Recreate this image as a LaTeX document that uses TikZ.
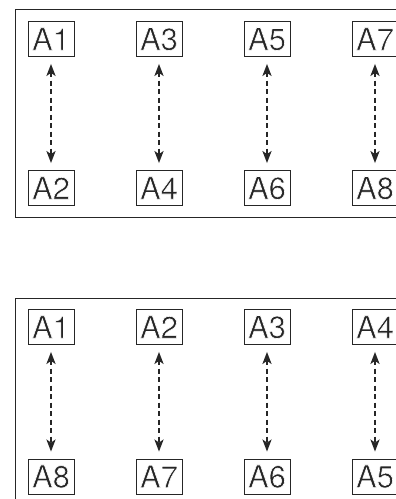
\documentclass[tikz,border=0pt]{standalone}
\usepackage{fontspec}
\setmainfont{TeX Gyre Heros}
\usetikzlibrary{arrows.meta}
\definecolor{ink}{HTML}{262626}
\newcommand\thintext[1]{\special{pdf:literal 2 Tr 0.6 w 1 1 1 RG}#1\special{pdf:literal 0 Tr}}
\tikzset{
  lbl/.style={draw=ink, line width=0.8pt, minimum width=46pt, minimum height=35pt, inner sep=0pt,
    text=ink, font=\fontsize{31}{30}\selectfont},
  link/.style={draw=ink, line width=2.7pt, dash pattern=on 5pt off 3.5pt,
    {Stealth[length=12pt,width=9pt,inset=3pt]}-{Stealth[length=12pt,width=9pt,inset=3pt]},
    shorten <=7pt, shorten >=7pt},
  frame/.style={draw=ink, line width=0.9pt}
}
\begin{document}
\begin{tikzpicture}[x=1pt,y=1pt]
\clip (0,0) rectangle (396,499);
% top panel frame (y from top: 9 .. 217)
\draw[frame] (410,490) -- (15.5,490) -- (15.5,282) -- (410,282);
% bottom panel frame (top at 298)
\draw[frame] (410,201) -- (15.5,201) -- (15.5,-10);
% top panel nodes
\node[lbl] (t1) at (51,460) {\thintext{A1}};
\node[lbl] (t2) at (51,311) {\thintext{A2}};
\node[lbl] (t3) at (159,460) {\thintext{A3}};
\node[lbl] (t4) at (159,311) {\thintext{A4}};
\node[lbl] (t5) at (267,460) {\thintext{A5}};
\node[lbl] (t6) at (267,311) {\thintext{A6}};
\node[lbl] (t7) at (375,460) {\thintext{A7}};
\node[lbl] (t8) at (375,311) {\thintext{A8}};
\draw[link] (t1) -- (t2);
\draw[link] (t3) -- (t4);
\draw[link] (t5) -- (t6);
\draw[link] (t7) -- (t8);
% bottom panel nodes
\node[lbl] (b1) at (51,172) {\thintext{A1}};
\node[lbl] (b8) at (51,22.5) {\thintext{A8}};
\node[lbl] (b2) at (159,172) {\thintext{A2}};
\node[lbl] (b7) at (159,22.5) {\thintext{A7}};
\node[lbl] (b3) at (267,172) {\thintext{A3}};
\node[lbl] (b6) at (267,22.5) {\thintext{A6}};
\node[lbl] (b4) at (375,172) {\thintext{A4}};
\node[lbl] (b5) at (375,22.5) {\thintext{A5}};
\draw[link] (b1) -- (b8);
\draw[link] (b2) -- (b7);
\draw[link] (b3) -- (b6);
\draw[link] (b4) -- (b5);
\end{tikzpicture}
\end{document}
